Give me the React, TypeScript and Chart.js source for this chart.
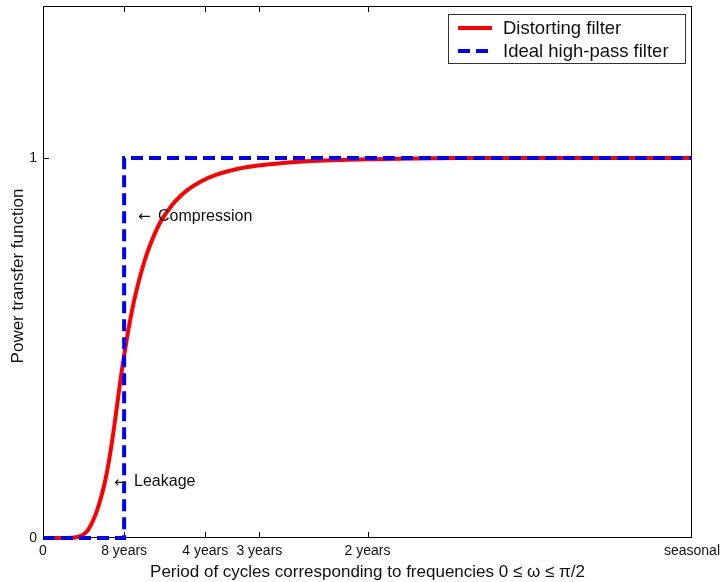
import React, { useEffect, useRef } from 'react';
import { Chart, registerables } from 'chart.js';

Chart.register(...registerables);

// x values are frequencies omega in radians, 0 .. pi/2
const xTickValues = [0, 0.19635, 0.3927, 0.5236, 0.7854, 1.5708];
const xTickLabels = ['0', '8 years', '4 years', '3 years', '2 years', 'seasonal'];
const yTickValues = [0, 1];
const yTickLabels = ['0', '1'];

const distortX = [0, 0.04, 0.07, 0.08, 0.09, 0.1, 0.11, 0.12, 0.13, 0.14, 0.15, 0.16, 0.17, 0.18, 0.19, 0.2, 0.21, 0.22, 0.23, 0.24, 0.25, 0.26, 0.28, 0.3, 0.32, 0.35, 0.38, 0.42, 0.47, 0.52, 0.58, 0.65, 0.72, 0.8, 0.9, 1.0, 1.2, 1.5708];
const distortY = [0, 0, 0.0005, 0.002, 0.005, 0.011, 0.023, 0.043, 0.07, 0.105, 0.148, 0.205, 0.275, 0.355, 0.435, 0.505, 0.568, 0.622, 0.668, 0.708, 0.743, 0.773, 0.823, 0.858, 0.886, 0.916, 0.937, 0.956, 0.971, 0.98, 0.987, 0.992, 0.995, 0.997, 0.999, 1.0, 1.0, 1.0];

const idealX = [0, 0.19635, 0.19635, 1.5708];
const idealY = [0, 0, 1, 1];

const seriesNames = ['Distorting filter', 'Ideal high-pass filter'];
const seriesColors = ['#ff0000', '#0000ff'];

const noteTexts = ['Compression', 'Leakage'];
const noteX = [0.23, 0.172];
const noteY = [0.847, 0.148];

const xTitle = 'Period of cycles corresponding to frequencies 0 \u2264 \u03c9 \u2264 \u03c0/2';
const yTitle = 'Power transfer function';

const FONT = '"Liberation Sans", Arial, Helvetica, sans-serif';
const DASH = [12, 6];

const framePlugin = {
  id: 'frame',
  beforeDatasetsDraw(chart: any) {
    const { ctx, chartArea: a, scales } = chart;
    ctx.save();
    ctx.strokeStyle = '#000';
    ctx.lineWidth = 1;
    ctx.strokeRect(Math.round(a.left) + 0.5, Math.round(a.top) + 0.5, Math.round(a.right - a.left) - 1, Math.round(a.bottom - a.top) - 1);
    ctx.beginPath();
    xTickValues.forEach((v, i) => {
      if (i === 0 || i === xTickValues.length - 1) return;
      const px = Math.round(scales.x.getPixelForValue(v)) + 0.5;
      ctx.moveTo(px, a.bottom);
      ctx.lineTo(px, a.bottom - 6);
      ctx.moveTo(px, a.top);
      ctx.lineTo(px, a.top + 6);
    });
    yTickValues.forEach((v) => {
      if (v === 0) return;
      const py = Math.round(scales.y.getPixelForValue(v)) + 0.5;
      ctx.moveTo(a.left, py);
      ctx.lineTo(a.left + 6, py);
      ctx.moveTo(a.right, py);
      ctx.lineTo(a.right - 6, py);
    });
    ctx.stroke();
    ctx.restore();
  },
  afterDraw(chart: any) {
    const { ctx, chartArea: a, scales } = chart;
    ctx.save();
    // annotations
    ctx.fillStyle = '#111';
    ctx.textAlign = 'left';
    ctx.textBaseline = 'middle';
    noteTexts.forEach((t, i) => {
      const px = scales.x.getPixelForValue(noteX[i]);
      const py = scales.y.getPixelForValue(noteY[i]);
      ctx.font = `15px "DejaVu Sans", ${FONT}`;
      ctx.fillText('\u2190', px, py + 1);
      ctx.font = `16px ${FONT}`;
      ctx.fillText(t, px + 20, py);
    });
    // axis titles
    ctx.font = `17px ${FONT}`;
    ctx.textAlign = 'center';
    ctx.fillText(xTitle, (a.left + a.right) / 2, 572);
    ctx.save();
    ctx.translate(18, (a.top + a.bottom) / 2 + 4);
    ctx.rotate(-Math.PI / 2);
    ctx.fillText(yTitle, 0, 0);
    ctx.restore();
    // legend
    const w = 237, h = 49;
    const lx = Math.round(a.right) - 7 - w;
    const ly = Math.round(a.top) + 8;
    ctx.fillStyle = '#fff';
    ctx.fillRect(lx, ly, w, h);
    ctx.strokeStyle = '#333';
    ctx.lineWidth = 1;
    ctx.strokeRect(lx + 0.5, ly + 0.5, w, h);
    seriesNames.forEach((name, i) => {
      const yy = ly + 14 + i * 23;
      ctx.beginPath();
      ctx.strokeStyle = seriesColors[i];
      ctx.lineWidth = 4;
      ctx.setLineDash(i === 1 ? DASH : []);
      ctx.moveTo(lx + 10, yy);
      ctx.lineTo(lx + 44, yy);
      ctx.stroke();
      ctx.setLineDash([]);
      ctx.fillStyle = '#111';
      ctx.font = `18.5px ${FONT}`;
      ctx.textAlign = 'left';
      ctx.textBaseline = 'middle';
      ctx.fillText(name, lx + 55, yy + 1);
    });
    ctx.restore();
  },
};

export default function App() {
  const ref = useRef<HTMLCanvasElement>(null);
  useEffect(() => {
    document.body.style.margin = '0';
    Chart.defaults.font.family = FONT;
    const chart = new Chart(ref.current as HTMLCanvasElement, {
      type: 'line',
      data: {
        datasets: [
          {
            label: seriesNames[0],
            data: distortX.map((x, i) => ({ x, y: distortY[i] })),
            borderColor: seriesColors[0],
            backgroundColor: seriesColors[0],
            borderWidth: 4,
            pointRadius: 0,
            cubicInterpolationMode: 'monotone',
            clip: false,
            order: 2,
          } as any,
          {
            label: seriesNames[1],
            data: idealX.map((x, i) => ({ x, y: idealY[i] })),
            borderColor: seriesColors[1],
            backgroundColor: seriesColors[1],
            borderWidth: 4,
            borderDash: DASH,
            pointRadius: 0,
            tension: 0,
            clip: false,
            order: 1,
          } as any,
        ],
      },
      options: {
        responsive: false,
        animation: false,
        layout: { padding: { top: 6, right: 30, left: 0, bottom: 0 } },
        plugins: { legend: { display: false }, tooltip: { enabled: false } },
        scales: {
          x: {
            type: 'linear',
            min: 0,
            max: 1.5708,
            afterBuildTicks: (s: any) => {
              s.ticks = xTickValues.map((v) => ({ value: v }));
            },
            afterFit: (s: any) => {
              s.height = 44;
              s.paddingLeft = 0;
              s.paddingRight = 0;
            },
            ticks: {
              autoSkip: false,
              maxRotation: 0,
              padding: 5,
              color: '#111',
              font: { size: 14, family: FONT },
              callback: (_v: any, i: number) => xTickLabels[i],
            },
            grid: { display: false, drawTicks: false },
            border: { display: false },
          },
          y: {
            type: 'linear',
            min: 0,
            max: 1.4,
            afterBuildTicks: (s: any) => {
              s.ticks = yTickValues.map((v) => ({ value: v }));
            },
            afterFit: (s: any) => {
              s.width = 43;
              s.paddingTop = 0;
              s.paddingBottom = 0;
            },
            ticks: {
              padding: 6,
              color: '#111',
              font: { size: 14, family: FONT },
              callback: (_v: any, i: number) => yTickLabels[i],
            },
            grid: { display: false, drawTicks: false },
            border: { display: false },
          },
        },
      } as any,
      plugins: [framePlugin],
    });
    return () => chart.destroy();
  }, []);
  return (
    <div style={{ width: 722, height: 582, position: 'relative', overflow: 'hidden' }}>
      <canvas ref={ref} width={722} height={582} style={{ display: 'block' }} />
    </div>
  );
}
